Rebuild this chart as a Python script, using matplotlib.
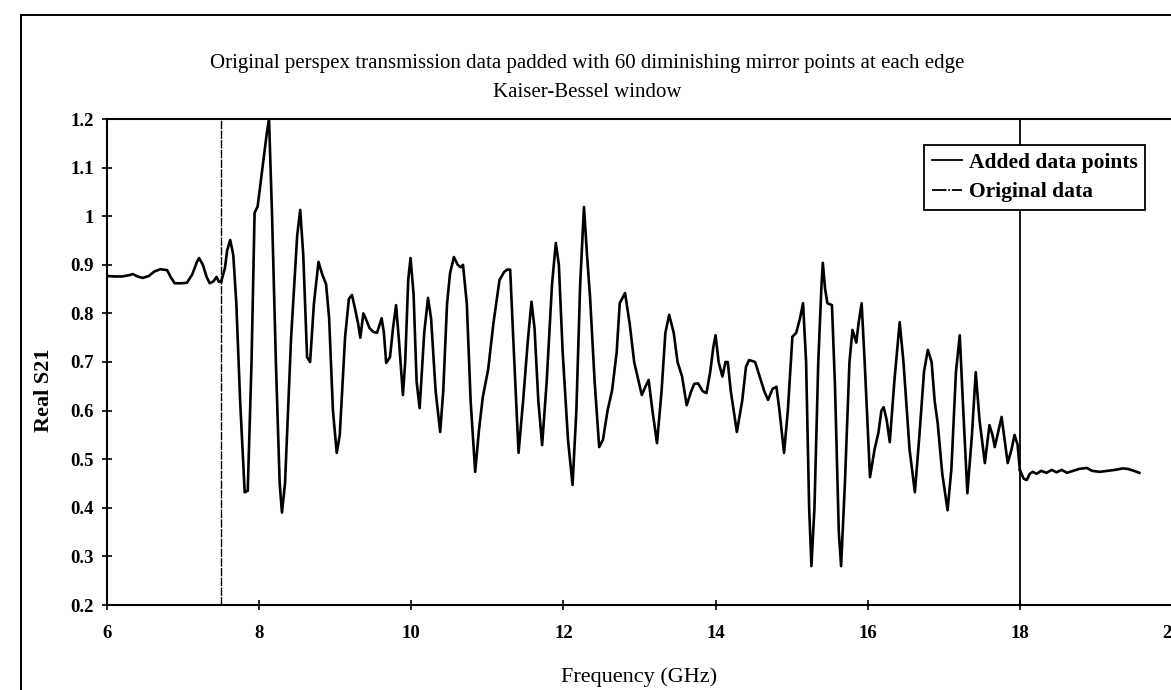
import matplotlib
matplotlib.use("Agg")
import matplotlib.pyplot as plt
from matplotlib.lines import Line2D

# ---- data ----
freq_added_left = [6.00, 6.10, 6.20, 6.30, 6.34, 6.40, 6.47, 6.55, 6.62, 6.70, 6.79, 6.84,
                   6.89, 6.97, 7.05, 7.12, 7.18, 7.21, 7.26, 7.31, 7.35, 7.40, 7.44, 7.47, 7.50]
s21_added_left = [0.877, 0.876, 0.876, 0.879, 0.881, 0.876, 0.873, 0.877, 0.886, 0.891, 0.889, 0.874,
                  0.862, 0.862, 0.863, 0.880, 0.905, 0.914, 0.900, 0.875, 0.862, 0.866, 0.875, 0.865, 0.865]

freq_original = [7.50, 7.55, 7.58, 7.62, 7.66, 7.70, 7.75, 7.81, 7.85, 7.90, 7.94, 7.98, 8.04, 8.10,
                 8.13, 8.17, 8.22, 8.27, 8.30, 8.34, 8.42, 8.50, 8.54, 8.58, 8.63, 8.67, 8.72, 8.78,
                 8.83, 8.88, 8.92, 8.97, 9.02, 9.06, 9.13, 9.18, 9.22, 9.26, 9.30, 9.33, 9.37, 9.40,
                 9.45, 9.50, 9.55, 9.61, 9.64, 9.67, 9.72, 9.76, 9.80, 9.84, 9.89, 9.92, 9.96, 9.99,
                 10.03, 10.07, 10.11, 10.17, 10.22, 10.26, 10.32, 10.38, 10.42, 10.47, 10.51, 10.56,
                 10.61, 10.65, 10.68, 10.73, 10.78, 10.84, 10.89, 10.94, 11.01, 11.08, 11.16, 11.22,
                 11.26, 11.30, 11.34, 11.41, 11.47, 11.53, 11.58, 11.62, 11.67, 11.72, 11.78, 11.85,
                 11.90, 11.94, 11.99, 12.06, 12.12, 12.17, 12.22, 12.27, 12.31, 12.35, 12.41, 12.47,
                 12.52, 12.58, 12.64, 12.70, 12.74, 12.81, 12.87, 12.93, 13.03, 13.08, 13.12, 13.17,
                 13.23, 13.29, 13.34, 13.39, 13.45, 13.50, 13.56, 13.62, 13.68, 13.72, 13.77, 13.83,
                 13.88, 13.93, 13.97, 14.00, 14.04, 14.09, 14.13, 14.16, 14.20, 14.28, 14.35, 14.40,
                 14.44, 14.52, 14.58, 14.64, 14.69, 14.75, 14.80, 14.84, 14.90, 14.95, 15.01, 15.06,
                 15.11, 15.15, 15.19, 15.23, 15.26, 15.30, 15.35, 15.39, 15.41, 15.44, 15.47, 15.53,
                 15.57, 15.62, 15.65, 15.70, 15.76, 15.80, 15.85, 15.88, 15.92, 15.96, 16.03, 16.09,
                 16.14, 16.18, 16.21, 16.25, 16.29, 16.35, 16.42, 16.47, 16.55, 16.62, 16.68, 16.74,
                 16.79, 16.84, 16.88, 16.92, 16.98, 17.05, 17.10, 17.16, 17.21, 17.25, 17.31, 17.37,
                 17.42, 17.47, 17.54, 17.60, 17.64, 17.67, 17.72, 17.76, 17.80, 17.84, 17.89, 17.93,
                 17.97, 18.00]
s21_original = [0.865, 0.893, 0.930, 0.951, 0.920, 0.821, 0.620, 0.432, 0.435, 0.700, 1.007, 1.020,
                1.095, 1.170, 1.200, 1.000, 0.700, 0.450, 0.390, 0.450, 0.750, 0.960, 1.013, 0.920,
                0.710, 0.700, 0.820, 0.906, 0.880, 0.860, 0.790, 0.600, 0.513, 0.550, 0.752, 0.830,
                0.838, 0.810, 0.780, 0.750, 0.800, 0.790, 0.770, 0.762, 0.760, 0.790, 0.760, 0.698,
                0.710, 0.770, 0.817, 0.740, 0.632, 0.700, 0.870, 0.914, 0.840, 0.660, 0.605, 0.760,
                0.832, 0.790, 0.640, 0.556, 0.640, 0.820, 0.883, 0.916, 0.900, 0.895, 0.900, 0.820,
                0.620, 0.474, 0.560, 0.628, 0.684, 0.780, 0.869, 0.885, 0.890, 0.890, 0.750, 0.513,
                0.620, 0.740, 0.824, 0.770, 0.620, 0.529, 0.660, 0.860, 0.945, 0.900, 0.720, 0.540,
                0.447, 0.600, 0.860, 1.019, 0.920, 0.834, 0.660, 0.525, 0.540, 0.600, 0.642, 0.720,
                0.821, 0.842, 0.780, 0.700, 0.632, 0.650, 0.663, 0.600, 0.533, 0.640, 0.760, 0.797,
                0.760, 0.700, 0.670, 0.611, 0.640, 0.655, 0.656, 0.640, 0.636, 0.680, 0.730, 0.755,
                0.700, 0.670, 0.700, 0.700, 0.640, 0.556, 0.620, 0.690, 0.704, 0.700, 0.670, 0.640,
                0.622, 0.645, 0.649, 0.600, 0.513, 0.600, 0.752, 0.760, 0.790, 0.821, 0.700, 0.400,
                0.280, 0.400, 0.700, 0.850, 0.904, 0.850, 0.821, 0.817, 0.650, 0.350, 0.280, 0.450,
                0.700, 0.766, 0.740, 0.780, 0.821, 0.700, 0.463, 0.520, 0.554, 0.600, 0.607, 0.580,
                0.535, 0.660, 0.782, 0.700, 0.520, 0.432, 0.550, 0.680, 0.725, 0.700, 0.620, 0.574,
                0.470, 0.395, 0.480, 0.680, 0.755, 0.620, 0.430, 0.550, 0.679, 0.580, 0.492, 0.570,
                0.550, 0.525, 0.560, 0.587, 0.540, 0.492, 0.520, 0.550, 0.530, 0.478]

freq_added_right = [18.00, 18.05, 18.09, 18.13, 18.17, 18.22, 18.28, 18.35, 18.42, 18.48, 18.55,
                    18.62, 18.70, 18.78, 18.88, 18.95, 19.05, 19.15, 19.25, 19.35, 19.42, 19.50, 19.57]
s21_added_right = [0.478, 0.460, 0.457, 0.470, 0.474, 0.470, 0.476, 0.472, 0.478, 0.473, 0.478,
                   0.472, 0.476, 0.480, 0.482, 0.476, 0.474, 0.476, 0.478, 0.481, 0.480, 0.476, 0.472]

window_edges = [7.5, 18.0]
x_ticks = [6, 8, 10, 12, 14, 16, 18, 20]
y_ticks = [0.2, 0.3, 0.4, 0.5, 0.6, 0.7, 0.8, 0.9, 1.0, 1.1, 1.2]
y_tick_labels = ["0.2", "0.3", "0.4", "0.5", "0.6", "0.7", "0.8", "0.9", "1", "1.1", "1.2"]

title_text = ("Original perspex transmission data padded with 60 diminishing mirror points at each edge\n"
              "Kaiser-Bessel window")
legend_labels = ["Added data points", "Original data"]

# ---- figure ----
W, H = 1171, 690
plt.rcParams["font.family"] = ["Liberation Serif", "DejaVu Serif"]
fig = plt.figure(figsize=(W / 100, H / 100), dpi=100)

# axes placed by pixel coordinates (right edge runs just past the picture, as in the reference)
ax_l, ax_r, ax_t, ax_b = 107, 1172, 119, 605
ax = fig.add_axes([ax_l / W, 1 - ax_b / H, (ax_r - ax_l) / W, (ax_b - ax_t) / H])

lw = 1.9
ax.plot(freq_added_left, s21_added_left, color="black", lw=lw, solid_joinstyle="round")
ax.plot(freq_added_right, s21_added_right, color="black", lw=lw, solid_joinstyle="round")
ax.plot(freq_original, s21_original, color="black", lw=lw, solid_joinstyle="round")

ax.axvline(window_edges[0], color="black", lw=1.0, ls=(0, (6, 1)))
ax.axvline(window_edges[1], color="black", lw=1.3)

ax.set_xlim(6, 20)
ax.set_ylim(0.2, 1.2)
ax.set_xticks(x_ticks)
ax.set_xticklabels([str(t) for t in x_ticks])
ax.set_yticks(y_ticks)
ax.set_yticklabels(y_tick_labels)
ax.tick_params(direction="inout", length=7, width=1.2, labelsize=13.5)
ax.tick_params(axis="x", pad=11)
ax.tick_params(axis="y", pad=6)
for lab in ax.get_xticklabels() + ax.get_yticklabels():
    lab.set_fontweight("bold")
for sp in ax.spines.values():
    sp.set_linewidth(1.5)

# legend
handles = [Line2D([0], [0], color="black", lw=1.3),
           Line2D([0], [0], color="black", lw=1.3, ls=(0, (8, 1, 1, 1)))]
leg = ax.legend(handles, legend_labels, loc="upper left",
                bbox_to_anchor=((924 - ax_l) / (ax_r - ax_l), 1 - (145 - ax_t) / (ax_b - ax_t)),
                prop={"family": "Liberation Serif", "weight": "bold", "size": 15.5},
                frameon=True, fancybox=False, edgecolor="black", framealpha=1,
                handlelength=1.4, handletextpad=0.35, borderpad=0.35, labelspacing=0.45,
                borderaxespad=0)
leg.get_frame().set_linewidth(1.3)

# titles and axis labels
fig.text(587 / W, 1 - 78 / H, title_text, ha="center", va="center",
         fontsize=15, linespacing=1.7)
fig.text(44 / W, 1 - 390 / H, "Real S21", rotation=90, ha="center", va="center",
         fontsize=16, fontweight="bold")
fig.text(639 / W, 1 - 677 / H, "Frequency (GHz)", ha="center", va="center", fontsize=16)

# outer chart-area border (top and left edges visible)
fig.add_artist(Line2D([21 / W, 21 / W], [0, 1 - 15 / H], color="black", lw=1.4,
                      transform=fig.transFigure))
fig.add_artist(Line2D([21 / W, 1], [1 - 15 / H, 1 - 15 / H], color="black", lw=1.4,
                      transform=fig.transFigure))

fig.savefig("out.png", dpi=100)
